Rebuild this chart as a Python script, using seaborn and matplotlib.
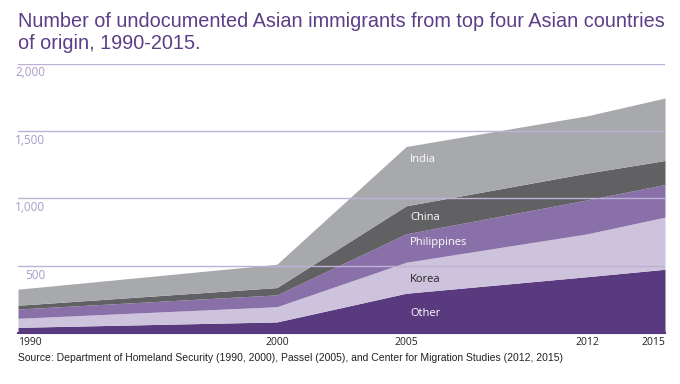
import pandas as pd
import matplotlib
matplotlib.use('Agg')
import matplotlib.pyplot as plt
import seaborn as sns

# Data (thousands)
years = [1990, 2000, 2005, 2012, 2015]
other = [42, 82, 295, 418, 473]
korea = [67, 113, 230, 318, 387]
philippines = [69, 88, 211, 252, 242]
china = [28, 54, 208, 199, 178]
india = [119, 173, 440, 425, 464]

series_names = ['Other', 'Korea', 'Philippines', 'China', 'India']
colors = ['#5a3a7e', '#cdc3dc', '#8a70a8', '#616163', '#a8a9ac']
label_colors = ['white', '#222222', 'white', 'white', 'white']
y_ticks = [500, 1000, 1500, 2000]

df = pd.DataFrame({'year': years, 'Other': other, 'Korea': korea,
                   'Philippines': philippines, 'China': china, 'India': india})

sns.set_theme(style='white')
plt.rcParams['font.family'] = ['Liberation Sans', 'DejaVu Sans']

fig = plt.figure(figsize=(6.8, 3.84), dpi=100)
ax = fig.add_axes([18 / 680, 1 - 333 / 384, 647 / 680, 269.5 / 384])

ax.stackplot(df['year'], [df[c] for c in series_names], colors=colors, linewidth=0)

# gridlines drawn over the areas
for v in y_ticks:
    ax.axhline(v, color='#bdb1d6', lw=1.0, zorder=5)
    ax.annotate(f'{v:,}', xy=(0, v), xycoords=('axes fraction', 'data'),
                xytext=(27, -3), textcoords='offset pixels', ha='right', va='top',
                fontsize=8.5, color='#a99bc9', family=['Open Sans', 'DejaVu Sans'])

# in-area labels at 2005
label_pos = [146, 394, 669, 860, 1290]
for name, yv, col in zip(series_names, label_pos, label_colors):
    ax.text(2005.15, yv, name, color=col, fontsize=8, va='center', ha='left',
            family=['Open Sans', 'DejaVu Sans'], zorder=6)

ax.set_xlim(1990, 2015)
ax.set_ylim(0, 2000)
ax.set_yticks([])
ax.set_xticks(years)
ax.set_xticklabels([str(y) for y in years], fontsize=7.5, color='#222222',
                   family=['Open Sans', 'DejaVu Sans'])
ticklabels = ax.get_xticklabels()
ticklabels[0].set_ha('left')
ticklabels[-1].set_ha('right')
ax.tick_params(axis='x', length=0, pad=3)

sns.despine(ax=ax, left=True, right=True, top=True)
ax.spines['bottom'].set_color('#5a3a7e')
ax.spines['bottom'].set_linewidth(1.5)

fig.text(18 / 680, 1 - 12 / 384,
         'Number of undocumented Asian immigrants from top four Asian countries\nof origin, 1990-2015.',
         fontsize=14.3, color='#5b3f86', ha='left', va='top', linespacing=1.2)
fig.text(18 / 680, 1 - 358 / 384,
         'Source: Department of Homeland Security (1990, 2000), Passel (2005), and Center for Migration Studies (2012, 2015)',
         fontsize=7.5, color='#222222', ha='left', va='center')

fig.savefig('out.png', dpi=100)
